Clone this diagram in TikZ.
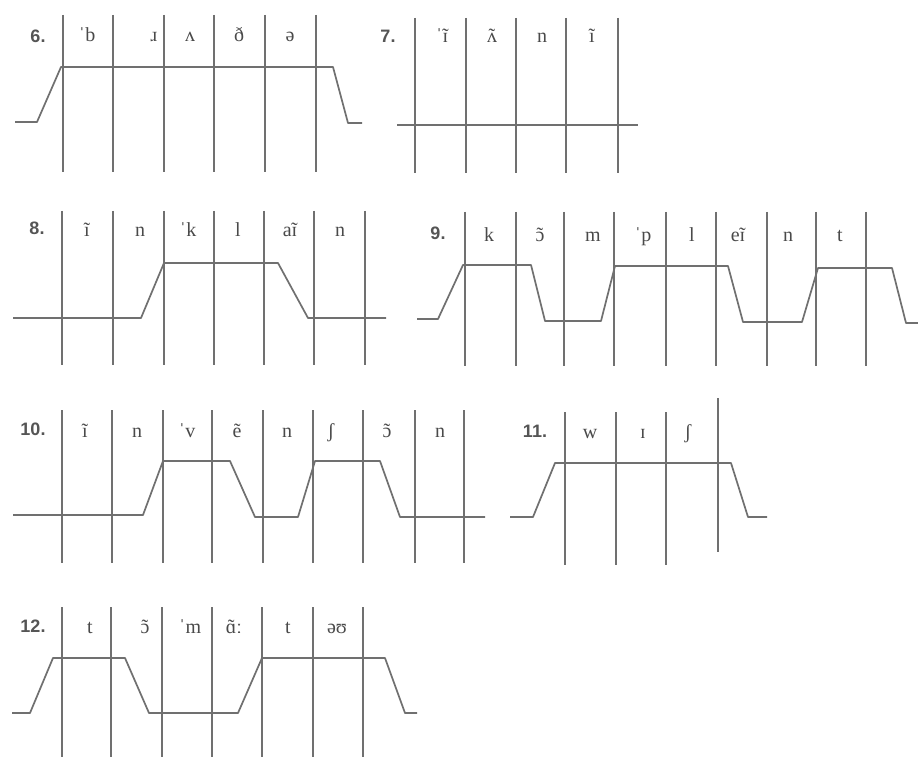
\documentclass[tikz,border=0pt]{standalone}
\usepackage{fontspec}
\setmainfont{Liberation Serif}
\newfontfamily\numfont{Liberation Sans}
\definecolor{ln}{HTML}{707070}
\definecolor{tx}{HTML}{4A4A4A}
\definecolor{nx}{HTML}{555555}
\newcommand\nasal[1]{\ooalign{#1\cr\hidewidth\char"02DC\hidewidth\cr}}
\begin{document}
\begin{tikzpicture}[x=1pt,y=-1pt,
  vline/.style={draw=ln,line width=1.7pt},
  wave/.style={draw=ln,line width=1.7pt,line join=round},
  lab/.style={anchor=base,text=tx,font=\fontsize{20}{20}\selectfont,inner sep=0pt},
  num/.style={anchor=base,text=nx,font=\numfont\bfseries\fontsize{18}{18}\selectfont,inner sep=0pt}]
\useasboundingbox[fill=white] (0,0) rectangle (918,759);

% ---------- 6 ----------
\node[num] (n6) at (38,43) {6.};
\foreach \x in {63,113,164,214,265,316} \draw[vline] (\x,15) -- (\x,172);
\node[lab] (l6a) at (87,42) {ˈb};
\node[lab] (l6b) at (154,42) {ɹ};
\node[lab] (l6c) at (190,42) {ʌ};
\node[lab] (l6d) at (239,42) {ð};
\node[lab] (l6e) at (290,42) {ə};
\draw[wave] (15,122) -- (37,122) -- (61,67) -- (333,67) -- (348,123) -- (362,123);

% ---------- 7 ----------
\node[num] (n7) at (388,43) {7.};
\foreach \x in {415,466,516,566,618} \draw[vline] (\x,18) -- (\x,173);
\node[lab] (l7a) at (442,43) {ˈ\nasal{ɪ}};
\node[lab] (l7b) at (492,43) {\nasal{ʌ}};
\node[lab] (l7c) at (542,43) {n};
\node[lab] (l7d) at (592,43) {ĩ};
\draw[wave] (397,125) -- (638,125);

% ---------- 8 ----------
\node[num] (n8) at (37,235) {8.};
\foreach \x in {62,113,164,214,264,314,365} \draw[vline] (\x,211) -- (\x,365);
\node[lab] (l8a) at (87,237) {ĩ};
\node[lab] (l8b) at (140,237) {n};
\node[lab] (l8c) at (188,237) {ˈk};
\node[lab] (l8d) at (238,237) {l};
\node[lab] (l8e) at (290,237) {a\nasal{ɪ}};
\node[lab] (l8f) at (340,237) {n};
\draw[wave] (13,318) -- (141,318) -- (164,263) -- (278,263) -- (308,318) -- (386,318);

% ---------- 9 ----------
\node[num] (n9) at (438,240) {9.};
\foreach \x in {465,516,564,614,666,716,767,816,866} \draw[vline] (\x,212) -- (\x,366);
\node[lab] (l9a) at (489,242) {k};
\node[lab] (l9b) at (540,242) {\nasal{ɔ}};
\node[lab] (l9c) at (593,242) {m};
\node[lab] (l9d) at (643,242) {ˈp};
\node[lab] (l9e) at (692,242) {l};
\node[lab] (l9f) at (738,242) {e\nasal{ɪ}};
\node[lab] (l9g) at (788,242) {n};
\node[lab] (l9h) at (840,242) {t};
\draw[wave] (417,319) -- (438,319) -- (463,265) -- (531,265) -- (545,321) -- (601,321)
  -- (615,266) -- (728,266) -- (743,322) -- (802,322) -- (818,268) -- (892,268)
  -- (906,323) -- (918,323);

% ---------- 10 ----------
\node[num] (n10) at (33,435) {10.};
\foreach \x in {62,112,163,212,263,313,363,415,464} \draw[vline] (\x,410) -- (\x,563);
\node[lab] (l10a) at (85,437) {ĩ};
\node[lab] (l10b) at (137,437) {n};
\node[lab] (l10c) at (187,437) {ˈv};
\node[lab] (l10d) at (237,437) {ẽ};
\node[lab] (l10e) at (287,437) {n};
\node[lab] (l10f) at (331,437) {ʃ};
\node[lab] (l10g) at (387,437) {\nasal{ɔ}};
\node[lab] (l10h) at (440,437) {n};
\draw[wave] (13,515) -- (143,515) -- (163,461) -- (230,461) -- (255,517) -- (298,517)
  -- (315,461) -- (380,461) -- (400,517) -- (485,517);

% ---------- 11 ----------
\node[num] (n11) at (535,437) {11.};
\foreach \x in {565,616,666} \draw[vline] (\x,412) -- (\x,565);
\draw[vline] (718,398) -- (718,552);
\node[lab] (l11a) at (590,438) {w};
\node[lab] (l11b) at (643,438) {ɪ};
\node[lab] (l11c) at (688,438) {ʃ};
\draw[wave] (510,517) -- (533,517) -- (555,463) -- (731,463) -- (748,517) -- (767,517);

% ---------- 12 ----------
\node[num] (n12) at (33,632) {12.};
\foreach \x in {62,111,162,212,262,313,363} \draw[vline] (\x,607) -- (\x,757);
\node[lab] (l12a) at (90,633) {t};
\node[lab] (l12b) at (145,633) {\nasal{ɔ}};
\node[lab] (l12c) at (190,633) {ˈm};
\node[lab] (l12d) at (234,633) {\nasal{ɑ}ː};
\node[lab] (l12e) at (288,633) {t};
\node[lab] (l12f) at (337,633) {əʊ};
\draw[wave] (12,713) -- (30,713) -- (53,658) -- (125,658) -- (149,713) -- (238,713)
  -- (262,658) -- (385,658) -- (405,713) -- (417,713);
\end{tikzpicture}
\end{document}
